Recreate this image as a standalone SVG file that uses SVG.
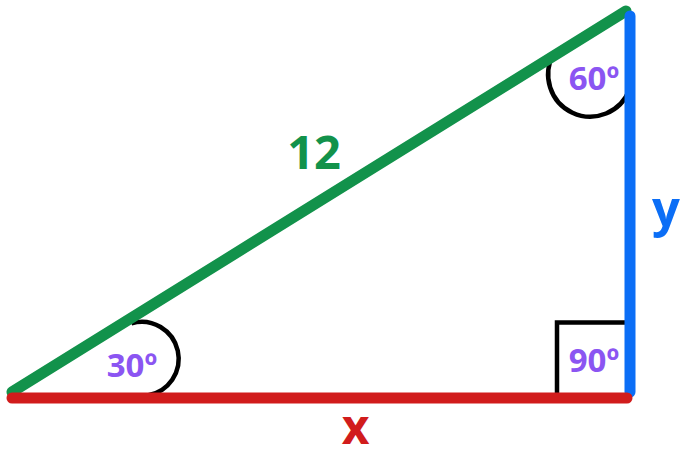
<svg xmlns="http://www.w3.org/2000/svg" width="685" height="451" viewBox="0 0 685 451">
<style>
.side{fill:none;stroke-linecap:round;stroke-width:11}
.mark{fill:none;stroke:#000;stroke-width:4.5}
.ang{font-family:"Open Sans","Noto Sans",sans-serif;font-weight:bold;font-size:33px;fill:#8b55f2;text-anchor:middle}
.lbl{font-family:"Open Sans","Noto Sans",sans-serif;font-weight:bold;text-anchor:middle}
</style>
<rect width="685" height="451" fill="#fff"/>
<g id="angle-marks">
<path class="mark" d="M131.4,323.3 A37,37 0 1 1 147.4,395.4"/>
<path class="mark" d="M553.6,54 A42,42 0 1 0 629.5,89.4"/>
<polyline class="mark" points="557,396 557,322.5 628,322.5"/>
</g>
<g id="connectors">
<line id="hyp" class="side" stroke="#12924b" x1="12" y1="392" x2="626" y2="11"/>
<line id="side-y" class="side" stroke="#0b6ef6" stroke-width="10" x1="630" y1="16" x2="630" y2="392"/>
<line id="side-x" class="side" stroke="#d11c1c" x1="12" y1="398" x2="627" y2="398"/>
</g>
<g id="label-30"><text class="ang" x="132" y="377">30º</text></g>
<g id="label-60"><text class="ang" x="594" y="90">60º</text></g>
<g id="label-90"><text class="ang" x="594" y="372">90º</text></g>
<g id="label-12"><text class="lbl" x="314" y="169" font-size="47" fill="#12924b">12</text></g>
<g id="label-y"><text class="lbl" x="666" y="226" font-size="49" fill="#0b6ef6">y</text></g>
<g id="label-x"><text class="lbl" x="355.5" y="444" font-size="48" fill="#d11c1c">x</text></g>
</svg>
